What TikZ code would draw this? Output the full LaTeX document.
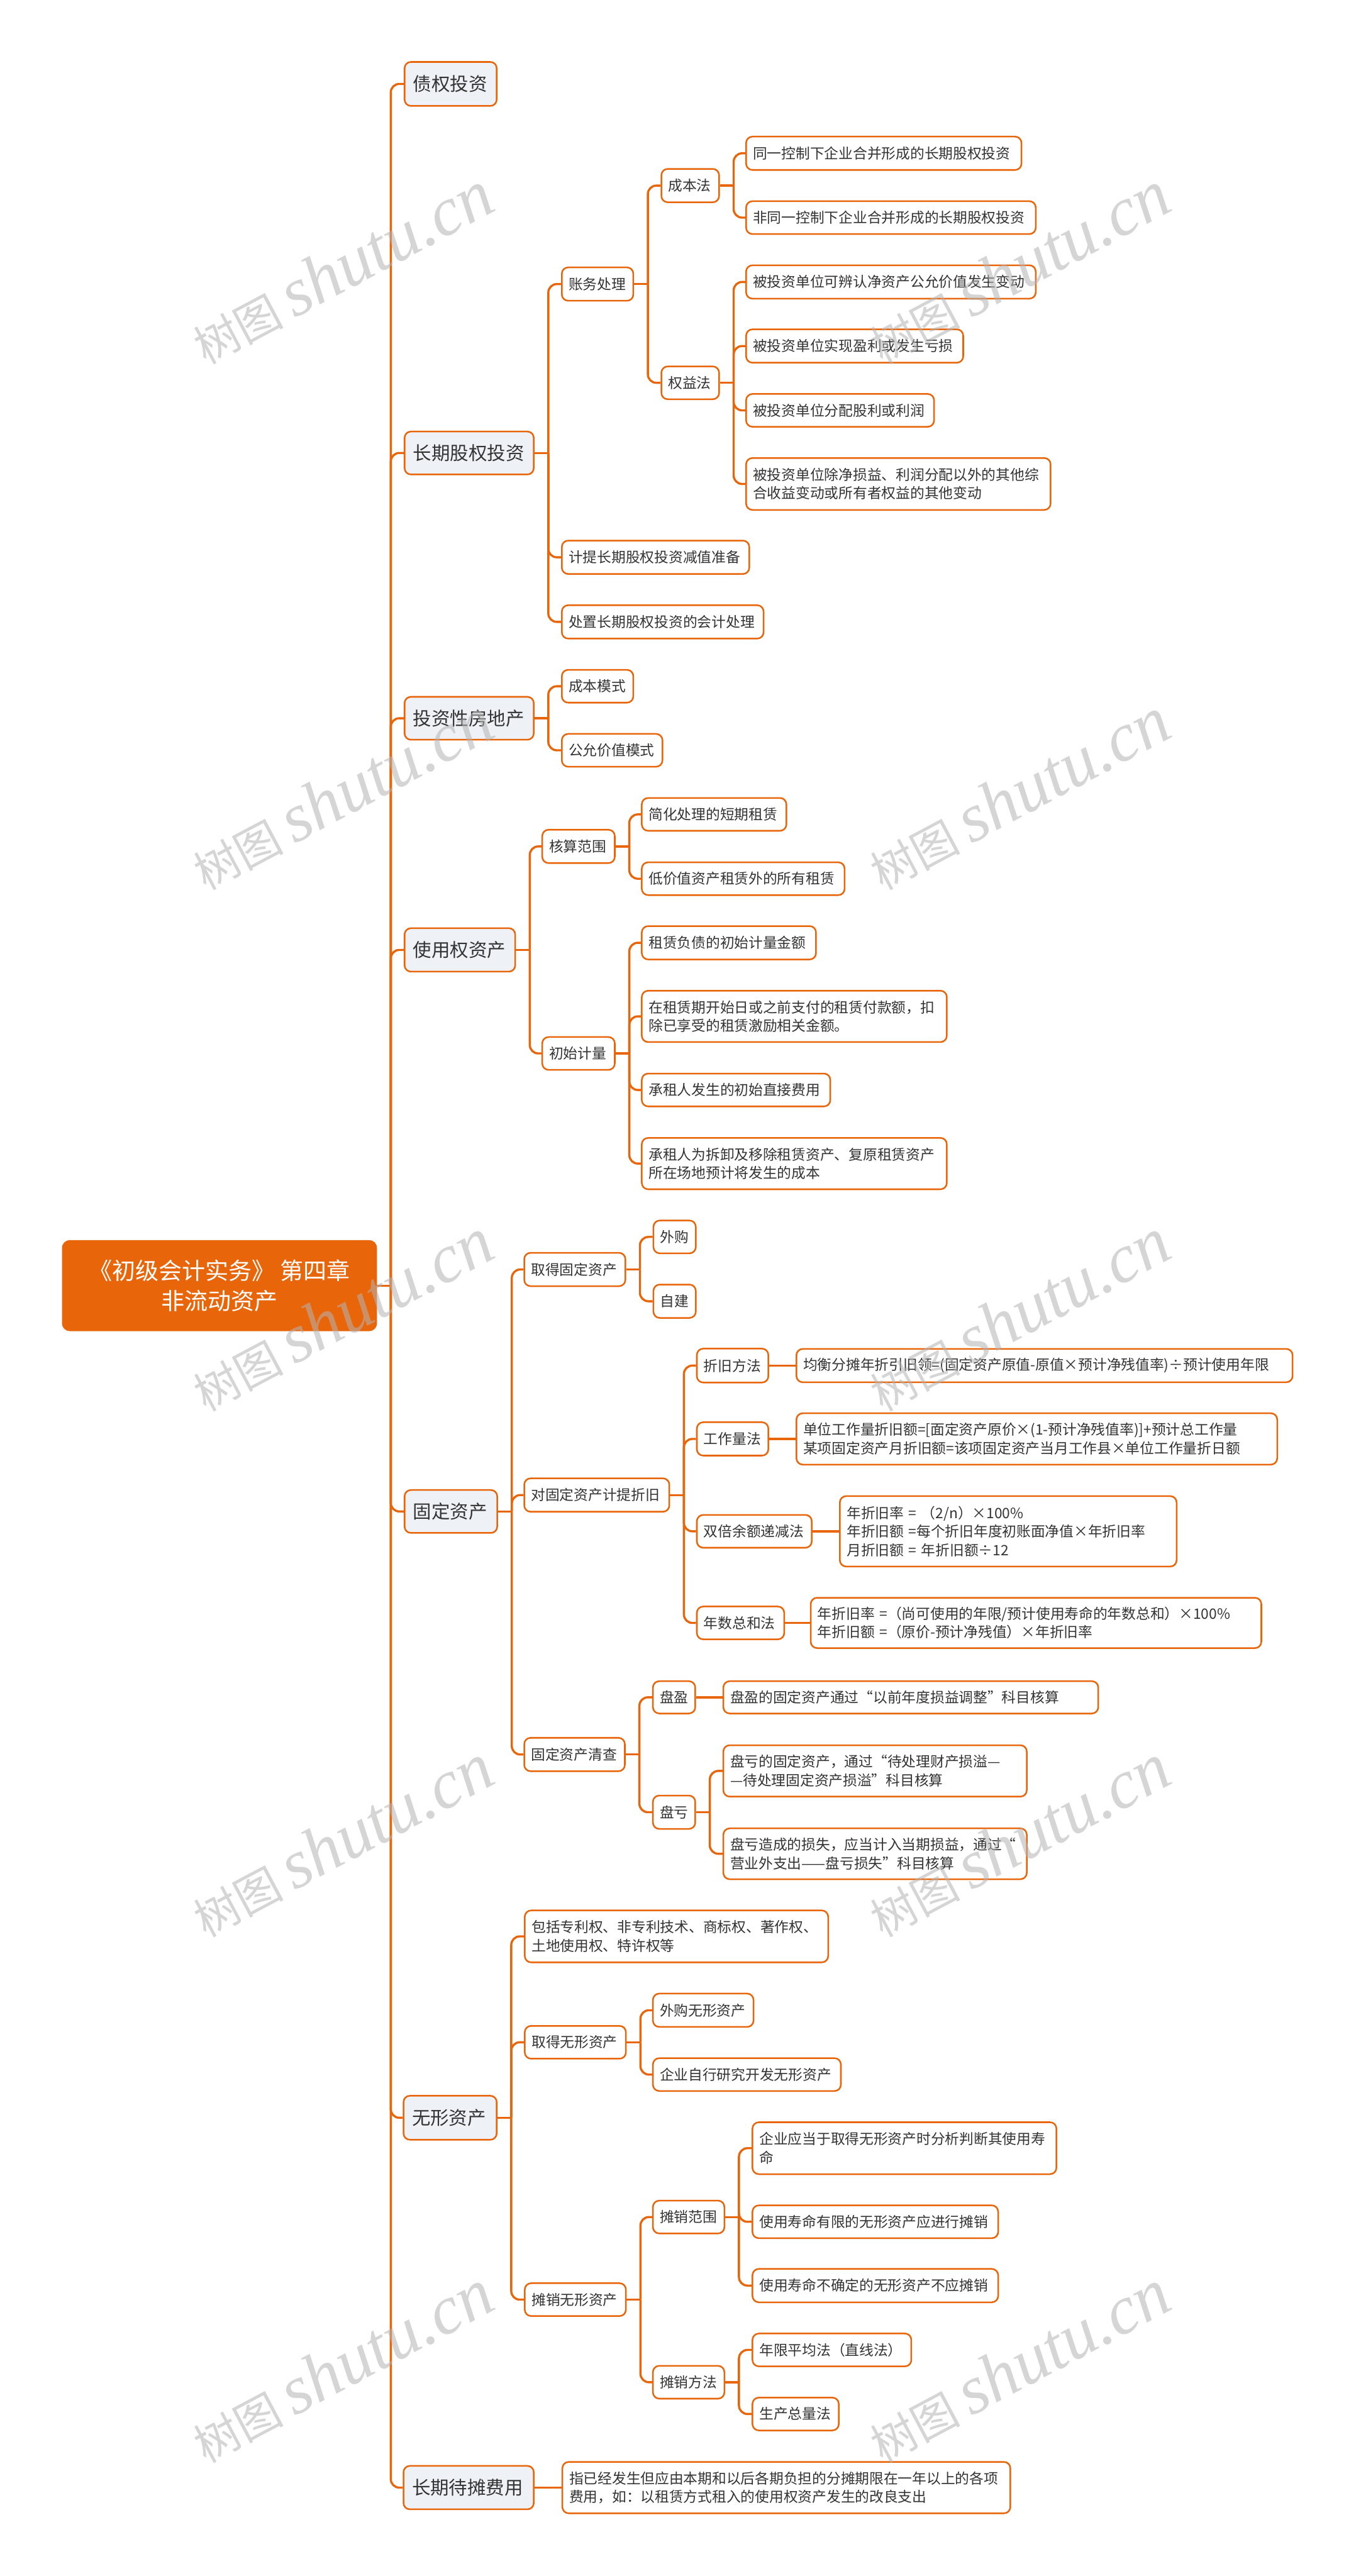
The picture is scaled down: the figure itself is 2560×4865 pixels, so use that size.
\documentclass[tikz,border=0pt]{standalone}
\usepackage{fontspec}
\setmainfont{Noto Sans CJK SC}
\newfontfamily\wmlatin{Liberation Serif}
\definecolor{orng}{HTML}{E8650A}
\definecolor{lvone}{HTML}{EEF2F6}
\definecolor{txt}{HTML}{333333}
\definecolor{wmc}{HTML}{B4B4B4}
\tikzset{
  conn/.style={draw=orng, line width=4pt, rounded corners=16pt},
  box/.style={draw=orng, line width=3pt, rounded corners=12pt, text=txt, align=left, inner xsep=13pt, inner ysep=0pt},
  lone/.style={box, fill=lvone, inner xsep=16pt, font=\fontsize{35}{44}\selectfont},
  ltwo/.style={box, fill=white, font=\fontsize{27}{35}\selectfont},
  rootbox/.style={fill=orng, draw=orng, line width=2pt, rounded corners=14pt, text=white, align=center, font=\fontsize{44}{58}\selectfont},
  wmark/.style={text=wmc, opacity=0.55, rotate=28, inner sep=0pt}
}
\newcommand{\kids}[2]{%
  \draw[conn] (#1.east) -- ++(26,0);
  \foreach \c in {#2}{\draw[conn] (#1.east) ++(26,0) |- (\c.west);}%
}
\begin{document}
\begin{tikzpicture}[x=1pt, y=-1pt]
\useasboundingbox (0,0) rectangle (2560,4865);
\fill[white] (0,0) rectangle (2560,4865);

% root
\node[rootbox, minimum width=593pt, minimum height=170pt] (root) at (414.5,2428) {《初级会计实务》 第四章\\非流动资产};

% level 1
\node[lone, text width=142pt, minimum height=83pt] (zq) at (851,158.5) {债权投资};
\node[lone, text width=212pt, minimum height=81pt] (cq) at (886,855.5) {长期股权投资};
\node[lone, text width=212pt, minimum height=81pt] (tf) at (886,1356.5) {投资性房地产};
\node[lone, text width=177pt, minimum height=82pt] (sy) at (868.5,1794) {使用权资产};
\node[lone, text width=143pt, minimum height=81pt] (gd) at (851.5,2854.5) {固定资产};
\node[lone, text width=144pt, minimum height=83pt] (wx) at (850,3999.5) {无形资产};
\node[lone, text width=214pt, minimum height=82pt] (cd) at (885,4698) {长期待摊费用};

% 长期股权投资
\node[ltwo, text width=109pt, minimum height=63pt] (zw) at (1128.5,536.5) {账务处理};
\node[ltwo, text width=328pt, minimum height=63pt] (jt) at (1238,1052.5) {计提长期股权投资减值准备};
\node[ltwo, text width=355pt, minimum height=63pt] (cz) at (1251.5,1174.5) {处置长期股权投资的会计处理};
\node[ltwo, text width=83pt, minimum height=63pt] (cbf) at (1303.5,350.5) {成本法};
\node[ltwo, text width=83pt, minimum height=62pt] (qyf) at (1303.5,723) {权益法};
\node[ltwo, text width=494pt, minimum height=63pt] (a1) at (1669,289.5) {同一控制下企业合并形成的长期股权投资};
\node[ltwo, text width=521pt, minimum height=62pt] (a2) at (1682.5,411) {非同一控制下企业合并形成的长期股权投资};
\node[ltwo, text width=521pt, minimum height=63pt] (b1) at (1682.5,532.5) {被投资单位可辨认净资产公允价值发生变动};
\node[ltwo, text width=384pt, minimum height=63pt] (b2) at (1614,653.5) {被投资单位实现盈利或发生亏损};
\node[ltwo, text width=329pt, minimum height=62pt] (b3) at (1586.5,775) {被投资单位分配股利或利润};
\node[ltwo, text width=549pt, minimum height=98pt] (b4) at (1696.5,914) {被投资单位除净损益、利润分配以外的其他综\\合收益变动或所有者权益的其他变动};

% 投资性房地产
\node[ltwo, text width=109pt, minimum height=62pt] (tf1) at (1128.5,1296) {成本模式};
\node[ltwo, text width=164pt, minimum height=62pt] (tf2) at (1156,1417) {公允价值模式};

% 使用权资产
\node[ltwo, text width=111pt, minimum height=63pt] (sy1) at (1092.5,1598.5) {核算范围};
\node[ltwo, text width=111pt, minimum height=62pt] (sy2) at (1092.5,1989.5) {初始计量};
\node[ltwo, text width=247pt, minimum height=62pt] (s11) at (1348.5,1538) {简化处理的短期租赁};
\node[ltwo, text width=357pt, minimum height=62pt] (s12) at (1403.5,1659.5) {低价值资产租赁外的所有租赁};
\node[ltwo, text width=303pt, minimum height=63pt] (s21) at (1376.5,1780.5) {租赁负债的初始计量金额};
\node[ltwo, text width=550pt, minimum height=97pt] (s22) at (1500,1919.5) {在租赁期开始日或之前支付的租赁付款额，扣\\除已享受的租赁激励相关金额。};
\node[ltwo, text width=330pt, minimum height=62pt] (s23) at (1390,2058.5) {承租人发生的初始直接费用};
\node[ltwo, text width=550pt, minimum height=97pt] (s24) at (1500,2197.5) {承租人为拆卸及移除租赁资产、复原租赁资产\\所在场地预计将发生的成本};

% 固定资产
\node[ltwo, text width=165pt, minimum height=63pt] (gd1) at (1085.5,2397.5) {取得固定资产};
\node[ltwo, text width=248pt, minimum height=63pt] (gd2) at (1127,2823.5) {对固定资产计提折旧};
\node[ltwo, text width=164pt, minimum height=63pt] (gd3) at (1085,3313.5) {固定资产清查};
\node[ltwo, text width=54pt, minimum height=62pt] (g11) at (1274,2336) {外购};
\node[ltwo, text width=54pt, minimum height=63pt] (g12) at (1274,2457.5) {自建};
\node[ltwo, text width=109pt, minimum height=64pt] (g21) at (1383.5,2579) {折旧方法};
\node[ltwo, text width=109pt, minimum height=63pt] (g22) at (1383.5,2717.5) {工作量法};
\node[ltwo, text width=191pt, minimum height=62pt] (g23) at (1424.5,2892) {双倍余额递减法};
\node[ltwo, text width=139pt, minimum height=62pt] (g24) at (1398.5,3065) {年数总和法};
\node[ltwo, text width=911pt, minimum height=63pt] (g21l) at (1972.5,2579) {均衡分摊年折引旧领=(固定资产原值-原值×预计净残值率)÷预计使用年限};
\node[ltwo, text width=882pt, minimum height=97pt] (g22l) at (1958,2717.5) {单位工作量折旧额=[面定资产原价×(1-预计净残值率)]+预计总工作量\\某项固定资产月折旧额=该项固定资产当月工作县×单位工作量折日额};
\node[ltwo, text width=610pt, minimum height=133pt] (g23l) at (1904,2892) {年折旧率 = （2/n）×100\%\\年折旧额 =每个折旧年度初账面净值×年折旧率\\月折旧额 = 年折旧额÷12};
\node[ltwo, text width=825pt, minimum height=95pt] (g24l) at (1956.5,3065) {年折旧率 =（尚可使用的年限/预计使用寿命的年数总和）×100\%\\年折旧额 =（原价-预计净残值）×年折旧率};
\node[ltwo, text width=54pt, minimum height=61pt] (g31) at (1273,3205.5) {盘盈};
\node[ltwo, text width=54pt, minimum height=63pt] (g32) at (1273,3422.5) {盘亏};
\node[ltwo, text width=682pt, minimum height=61pt] (g31l) at (1720,3205.5) {盘盈的固定资产通过“以前年度损益调整”科目核算};
\node[ltwo, text width=547pt, minimum height=97pt] (g32a) at (1652.5,3344.5) {盘亏的固定资产，通过“待处理财产损溢—\\—待处理固定资产损溢”科目核算};
\node[ltwo, text width=547pt, minimum height=96pt] (g32b) at (1652.5,3501) {盘亏造成的损失，应当计入当期损益，通过“\\营业外支出——盘亏损失”科目核算};

% 无形资产
\node[ltwo, text width=547pt, minimum height=98pt] (wx1) at (1277.5,3657) {包括专利权、非专利技术、商标权、著作权、\\土地使用权、特许权等};
\node[ltwo, text width=165pt, minimum height=62pt] (wx2) at (1086.5,3857) {取得无形资产};
\node[ltwo, text width=165pt, minimum height=62pt] (wx3) at (1086.5,4343) {摊销无形资产};
\node[ltwo, text width=164pt, minimum height=63pt] (w21) at (1328,3796.5) {外购无形资产};
\node[ltwo, text width=329pt, minimum height=62pt] (w22) at (1410.5,3918) {企业自行研究开发无形资产};
\node[ltwo, text width=109pt, minimum height=62pt] (w31) at (1300.5,4187) {摊销范围};
\node[ltwo, text width=109pt, minimum height=62pt] (w32) at (1300.5,4499) {摊销方法};
\node[ltwo, text width=548pt, minimum height=98pt] (w311) at (1708,4057) {企业应当于取得无形资产时分析判断其使用寿\\命};
\node[ltwo, text width=438pt, minimum height=62pt] (w312) at (1653,4196) {使用寿命有限的无形资产应进行摊销};
\node[ltwo, text width=438pt, minimum height=63pt] (w313) at (1653,4316.5) {使用寿命不确定的无形资产不应摊销};
\node[ltwo, text width=274pt, minimum height=62pt] (w321) at (1571,4438) {年限平均法（直线法）};
\node[ltwo, text width=137pt, minimum height=62pt] (w322) at (1502.5,4559) {生产总量法};

% 长期待摊费用
\node[ltwo, text width=820pt, minimum height=97pt] (cdl) at (1485,4698) {指已经发生但应由本期和以后各期负担的分摊期限在一年以上的各项\\费用，如：以租赁方式租入的使用权资产发生的改良支出};

% connectors
\kids{root}{zq,cq,tf,sy,gd,wx,cd}
\kids{cq}{zw,jt,cz}
\kids{zw}{cbf,qyf}
\kids{cbf}{a1,a2}
\kids{qyf}{b1,b2,b3,b4}
\kids{tf}{tf1,tf2}
\kids{sy}{sy1,sy2}
\kids{sy1}{s11,s12}
\kids{sy2}{s21,s22,s23,s24}
\kids{gd}{gd1,gd2,gd3}
\kids{gd1}{g11,g12}
\kids{gd2}{g21,g22,g23,g24}
\draw[conn] (g21.east) -- (g21l.west);
\draw[conn] (g22.east) -- (g22l.west);
\draw[conn] (g23.east) -- (g23l.west);
\draw[conn] (g24.east) -- (g24l.west);
\kids{gd3}{g31,g32}
\draw[conn] (g31.east) -- (g31l.west);
\kids{g32}{g32a,g32b}
\kids{wx}{wx1,wx2,wx3}
\kids{wx2}{w21,w22}
\kids{wx3}{w31,w32}
\kids{w31}{w311,w312,w313}
\kids{w32}{w321,w322}
\draw[conn] (cd.east) -- (cdl.west);

% watermarks
\foreach \wy in {506,1499,2483,3476,4469}{
  \foreach \wx in {646,1924}{
    \node[wmark] at (\wx,\wy) {\fontsize{85}{90}\selectfont 树图 {\wmlatin\itshape\fontsize{130}{130}\selectfont shutu.cn}};
  }
}
\end{tikzpicture}
\end{document}
